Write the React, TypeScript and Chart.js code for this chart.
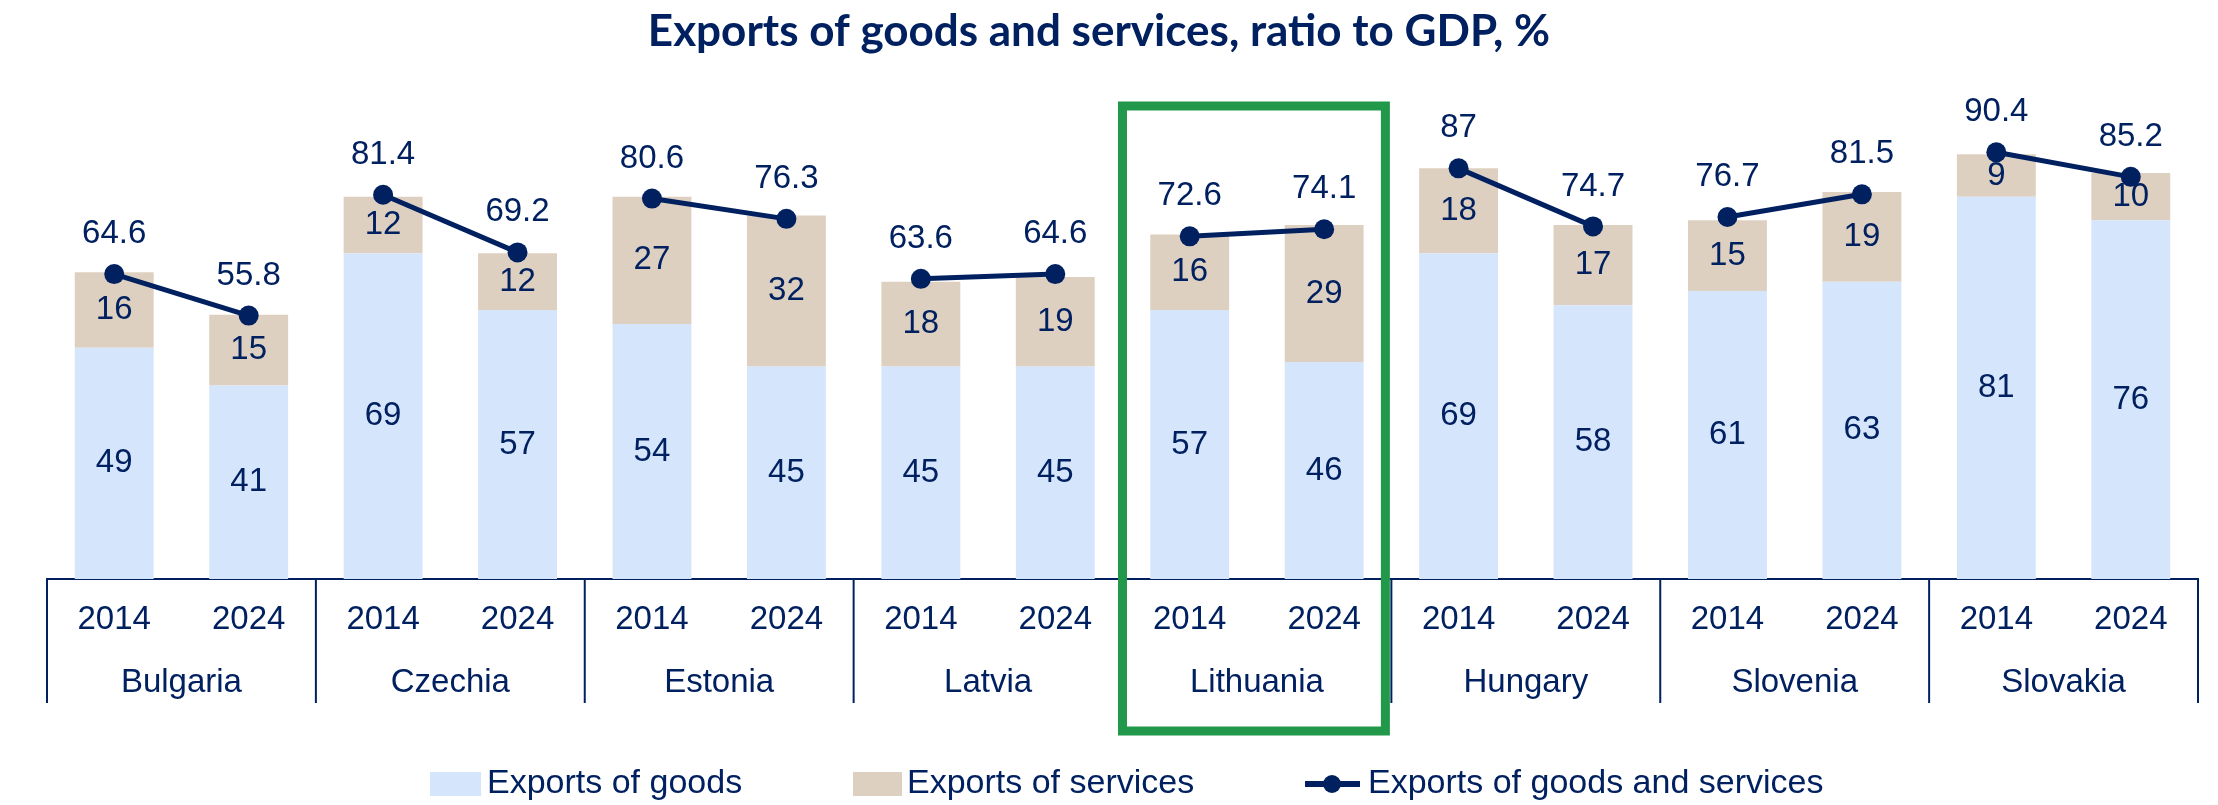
import React, { useEffect, useRef } from 'react';
import { Chart, registerables } from 'chart.js';

Chart.register(...registerables);

const countries = ['Bulgaria', 'Czechia', 'Estonia', 'Latvia', 'Lithuania', 'Hungary', 'Slovenia', 'Slovakia'];
const years = ['2014', '2024'];
const goods = [49, 41, 69, 57, 54, 45, 45, 45, 57, 46, 69, 58, 61, 63, 81, 76];
const services = [16, 15, 12, 12, 27, 32, 18, 19, 16, 29, 18, 17, 15, 19, 9, 10];
const totals = [64.6, 55.8, 81.4, 69.2, 80.6, 76.3, 63.6, 64.6, 72.6, 74.1, 87, 74.7, 76.7, 81.5, 90.4, 85.2];
const highlighted = 'Lithuania';

const titleText = 'Exports of goods and services, ratio to GDP, %';
const seriesNames = ['Exports of goods', 'Exports of services', 'Exports of goods and services'];

const NAVY = '#002060';
const GOODS = '#D5E6FC';
const SERV = '#DED0C0';
const GREEN = '#21984A';
const FONT = '"Liberation Sans", Arial, sans-serif';

const decor = {
  id: 'decor',
  afterDatasetsDraw(chart: any) {
    const ctx = chart.ctx as CanvasRenderingContext2D;
    const area = chart.chartArea;
    const xs = chart.scales.x;
    ctx.save();
    ctx.font = `33px ${FONT}`;
    ctx.fillStyle = NAVY;
    ctx.textAlign = 'center';
    ctx.textBaseline = 'middle';
    // bar segment labels
    [0, 1].forEach((di) => {
      const meta = chart.getDatasetMeta(di);
      meta.data.forEach((el: any, i: number) => {
        const p = el.getProps(['x', 'y', 'base'], true);
        ctx.fillText(String(chart.data.datasets[di].data[i]), p.x, (p.y + p.base) / 2);
      });
    });
    // line labels
    const lm = chart.getDatasetMeta(2);
    lm.data.forEach((el: any, i: number) => {
      ctx.fillText(String(totals[i]), el.x, el.y - 40);
    });
    // country dividers
    const half = (xs.getPixelForValue(1) - xs.getPixelForValue(0)) / 2;
    ctx.strokeStyle = NAVY;
    ctx.lineWidth = 2;
    for (let i = 0; i <= countries.length; i++) {
      const x = i < countries.length ? xs.getPixelForValue(i * 2) - half : xs.getPixelForValue(i * 2 - 1) + half;
      ctx.beginPath();
      ctx.moveTo(x, area.bottom);
      ctx.lineTo(x, area.bottom + 124);
      ctx.stroke();
    }
    // country labels
    countries.forEach((c, i) => {
      const x = (xs.getPixelForValue(2 * i) + xs.getPixelForValue(2 * i + 1)) / 2;
      ctx.fillText(c, x, area.bottom + 104);
    });
    // highlight box
    const hi = countries.indexOf(highlighted);
    if (hi >= 0) {
      const left = xs.getPixelForValue(2 * hi) - half;
      const right = xs.getPixelForValue(2 * hi + 1) + half - 6;
      ctx.strokeStyle = GREEN;
      ctx.lineWidth = 9;
      ctx.strokeRect(left, area.top - 1, right - left, 731 - (area.top - 1));
    }
    // title
    ctx.font = `bold 44px Lato, "Open Sans", sans-serif`;
    ctx.textBaseline = 'alphabetic';
    ctx.fillStyle = NAVY;
    ctx.fillText(titleText, 1099, 46);
    // legend
    const ly = 784;
    ctx.font = `34px ${FONT}`;
    ctx.textAlign = 'left';
    ctx.textBaseline = 'middle';
    ctx.fillStyle = GOODS;
    ctx.fillRect(430, ly - 12, 51, 24);
    ctx.fillStyle = NAVY;
    ctx.fillText(seriesNames[0], 487, ly);
    ctx.fillStyle = SERV;
    ctx.fillRect(853, ly - 12, 49, 24);
    ctx.fillStyle = NAVY;
    ctx.fillText(seriesNames[1], 907, ly);
    ctx.strokeStyle = NAVY;
    ctx.lineWidth = 6;
    ctx.beginPath();
    ctx.moveTo(1305, ly);
    ctx.lineTo(1360, ly);
    ctx.stroke();
    ctx.beginPath();
    ctx.arc(1332, ly, 9, 0, Math.PI * 2);
    ctx.fill();
    ctx.fillText(seriesNames[2], 1368, ly);
    ctx.restore();
  },
};

export default function App() {
  const ref = useRef<HTMLCanvasElement | null>(null);
  useEffect(() => {
    if (!ref.current) return;
    const labels = countries.flatMap(() => years);
    const chart = new Chart(ref.current, {
      type: 'bar',
      data: {
        labels,
        datasets: [
          {
            type: 'bar',
            label: seriesNames[0],
            data: goods,
            backgroundColor: GOODS,
            stack: 'bars',
            order: 1,
            barPercentage: 0.587,
            categoryPercentage: 1,
          },
          {
            type: 'bar',
            label: seriesNames[1],
            data: services,
            backgroundColor: SERV,
            stack: 'bars',
            order: 1,
            barPercentage: 0.587,
            categoryPercentage: 1,
          },
          {
            type: 'line',
            label: seriesNames[2],
            data: totals,
            stack: 'line',
            order: 0,
            borderColor: NAVY,
            borderWidth: 5,
            pointRadius: 10,
            pointHoverRadius: 10,
            pointBackgroundColor: NAVY,
            pointBorderColor: NAVY,
            pointBorderWidth: 0,
            clip: false,
            segment: {
              borderColor: (c: any) => (c.p0DataIndex % 2 === 1 ? 'rgba(0,0,0,0)' : NAVY),
            },
          } as any,
        ],
      },
      options: {
        responsive: false,
        animation: false,
        layout: { padding: { left: 47, right: 20, top: 107, bottom: 0 } },
        plugins: {
          legend: { display: false },
          title: { display: false },
          tooltip: { enabled: false },
        },
        scales: {
          x: {
            stacked: true,
            grid: { display: false, drawTicks: false },
            border: { display: true, color: NAVY, width: 2 },
            ticks: {
              color: NAVY,
              font: { family: FONT, size: 33 },
              padding: 21,
              autoSkip: false,
              maxRotation: 0,
            },
            afterFit: (scale: any) => {
              scale.height = 226;
            },
          },
          y: {
            stacked: true,
            display: false,
            min: 0,
            max: 100,
          },
        },
      },
      plugins: [decor],
    });
    return () => chart.destroy();
  }, []);
  return (
    <div style={{ position: 'fixed', left: 0, top: 0, width: 2218, height: 805, background: '#fff' }}>
      <canvas ref={ref} width={2218} height={805} style={{ display: 'block' }} />
    </div>
  );
}
